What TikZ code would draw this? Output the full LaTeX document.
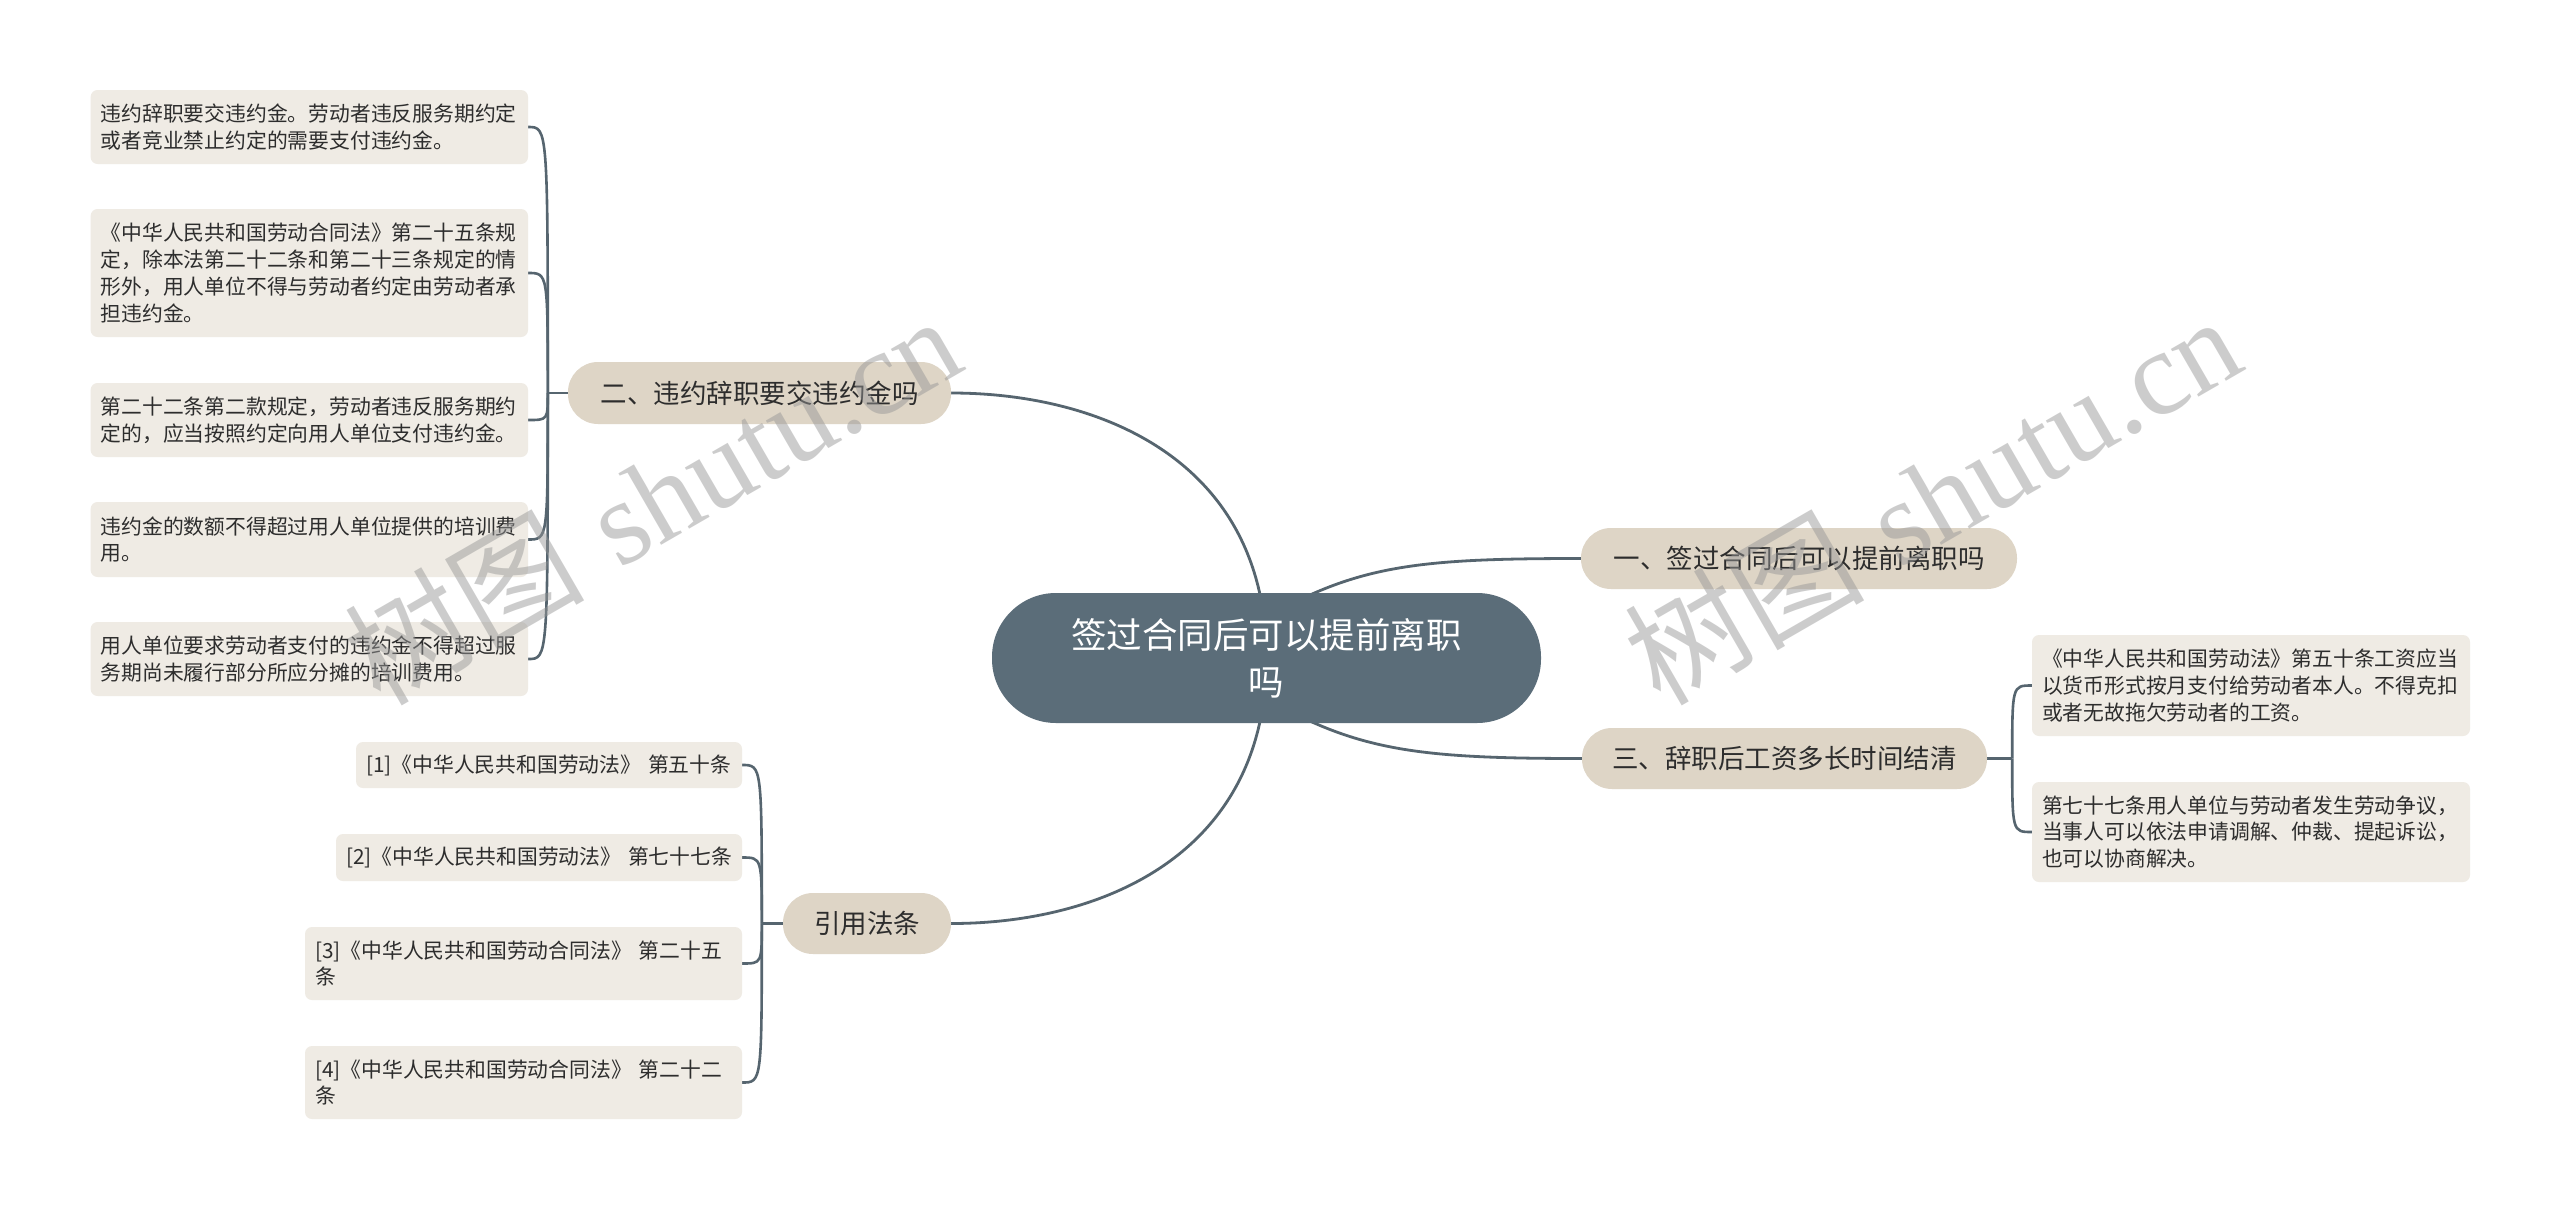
\documentclass[tikz,border=0pt]{standalone}
\usepackage{fontspec}
\setmainfont{Noto Sans CJK SC}
\newfontfamily\wmlatin{Liberation Serif}
\newfontfamily\wmcjk{Noto Sans CJK SC}
\usetikzlibrary{calc}
\pgfdeclarelayer{bg}
\pgfdeclarelayer{fg}
\pgfsetlayers{bg,main,fg}
\definecolor{rootfill}{RGB}{91,109,121}
\definecolor{branchfill}{RGB}{222,213,198}
\definecolor{leaffill}{RGB}{239,235,228}
\definecolor{linecol}{RGB}{86,101,111}
\definecolor{txt}{RGB}{45,45,45}
\definecolor{wm}{RGB}{150,150,150}
\tikzset{
  rootbox/.style={fill=rootfill, text=white, rounded corners=64pt, minimum width=549pt, minimum height=130pt, inner sep=0pt, align=center, font=\fontsize{35.5pt}{47pt}\selectfont},
  branchbox/.style={fill=branchfill, text=txt, rounded corners=30pt, minimum height=61pt, inner sep=0pt, font=\fontsize{26.5pt}{32pt}\selectfont},
  leafbox/.style={fill=leaffill, text=txt, rounded corners=7pt, inner xsep=10pt, inner ysep=0pt, align=left, font=\fontsize{20.8pt}{26.8pt}\selectfont},
  conn/.style={draw=linecol, line width=2.6pt},
  mainconn/.style={draw=linecol, line width=2.8pt},
  wmark/.style={text=wm, opacity=0.48, rotate=30, anchor=base west, inner sep=0pt}
}
\begin{document}
\begin{tikzpicture}[x=1pt,y=-1pt]
\useasboundingbox (0,0) rectangle (2560,1210);

% root
\node[rootbox] (c) at (1266.5,658) {签过合同后可以提前离职\\吗};

% branches
\node[branchbox, minimum width=436pt] (b1) at (1799,558.5) {一、签过合同后可以提前离职吗};
\node[branchbox, minimum width=405pt] (b3) at (1784.5,758.5) {三、辞职后工资多长时间结清};
\node[branchbox, minimum width=383pt, minimum height=62pt] (b2) at (759.5,393) {二、违约辞职要交违约金吗};
\node[branchbox, minimum width=168pt] (b4) at (867,923.5) {引用法条};

% leaves of b2
\node[leafbox, text width=417.4pt, minimum height=74pt] (l1) at (309.3,127) {违约辞职要交违约金。劳动者违反服务期约定\\或者竞业禁止约定的需要支付违约金。};
\node[leafbox, text width=417.4pt, minimum height=128pt] (l2) at (309.3,273) {《中华人民共和国劳动合同法》第二十五条规\\定，除本法第二十二条和第二十三条规定的情\\形外，用人单位不得与劳动者约定由劳动者承\\担违约金。};
\node[leafbox, text width=417.4pt, minimum height=74pt] (l3) at (309.3,420) {第二十二条第二款规定，劳动者违反服务期约\\定的，应当按照约定向用人单位支付违约金。};
\node[leafbox, text width=417.4pt, minimum height=75pt] (l4) at (309.3,539.5) {违约金的数额不得超过用人单位提供的培训费\\用。};
\node[leafbox, text width=417.4pt, minimum height=74pt] (l5) at (309.3,659) {用人单位要求劳动者支付的违约金不得超过服\\务期尚未履行部分所应分摊的培训费用。};

% leaves of b4
\node[leafbox, text width=366pt, minimum height=46pt] (r1) at (549,765) {[1]《中华人民共和国劳动法》~第五十条};
\node[leafbox, text width=386pt, minimum height=47pt] (r2) at (539,857.5) {[2]《中华人民共和国劳动法》~第七十七条};
\node[leafbox, text width=417pt, minimum height=73pt] (r3) at (523.5,963.5) {[3]《中华人民共和国劳动合同法》~第二十五\\条};
\node[leafbox, text width=417pt, minimum height=73pt] (r4) at (523.5,1082.5) {[4]《中华人民共和国劳动合同法》~第二十二\\条};

% leaves of b3
\node[leafbox, text width=418pt, minimum height=101pt] (t1) at (2251,685.5) {《中华人民共和国劳动法》第五十条工资应当\\以货币形式按月支付给劳动者本人。不得克扣\\或者无故拖欠劳动者的工资。};
\node[leafbox, text width=418pt, minimum height=100pt] (t2) at (2251,832) {第七十七条用人单位与劳动者发生劳动争议，\\当事人可以依法申请调解、仲裁、提起诉讼，\\也可以协商解决。};

% junction points
\coordinate (j2) at ($(b2.west)+(-20,0)$);
\coordinate (j4) at ($(b4.west)+(-21,0)$);
\coordinate (j3) at ($(b3.east)+(25,0)$);

\begin{pgfonlayer}{bg}
\fill[white] (0,0) rectangle (2560,1210);
% root to branches
\draw[mainconn] (c.center) .. controls (1266,460) and (1100,393) .. (b2.east);
\draw[mainconn] (c.center) .. controls (1266,856) and (1100,923.5) .. (b4.east);
\draw[mainconn] ($(c.center)+(4,-43)$) .. controls (1360,565) and (1420,558.5) .. (b1.west);
\draw[mainconn] ($(c.center)+(4,43)$) .. controls (1360,751) and (1420,758.5) .. (b3.west);

% b2 group
\draw[conn] (b2.west) -- (j2);
\foreach \n in {l1,l2,l3,l4,l5}{
  \draw[conn] (j2) .. controls (j2 |- \n.east) and (j2 |- \n.east) .. (\n.east);
}
% b4 group
\draw[conn] (b4.west) -- (j4);
\foreach \n in {r1,r2,r3,r4}{
  \draw[conn] (j4) .. controls (j4 |- \n.east) and (j4 |- \n.east) .. (\n.east);
}
% b3 group
\draw[conn] (b3.east) -- (j3);
\foreach \n in {t1,t2}{
  \draw[conn] (j3) .. controls (j3 |- \n.west) and (j3 |- \n.west) .. (\n.west);
}
\end{pgfonlayer}

% watermarks
\begin{pgfonlayer}{fg}
\node[wmark] (w1) at (380,708) {\fontsize{120pt}{120pt}\wmcjk 树图\hspace{0.3em}\wmlatin shutu.cn};
\node[wmark] (w2) at (1660,708) {\fontsize{120pt}{120pt}\wmcjk 树图\hspace{0.3em}\wmlatin shutu.cn};
\end{pgfonlayer}
\end{tikzpicture}
\end{document}
